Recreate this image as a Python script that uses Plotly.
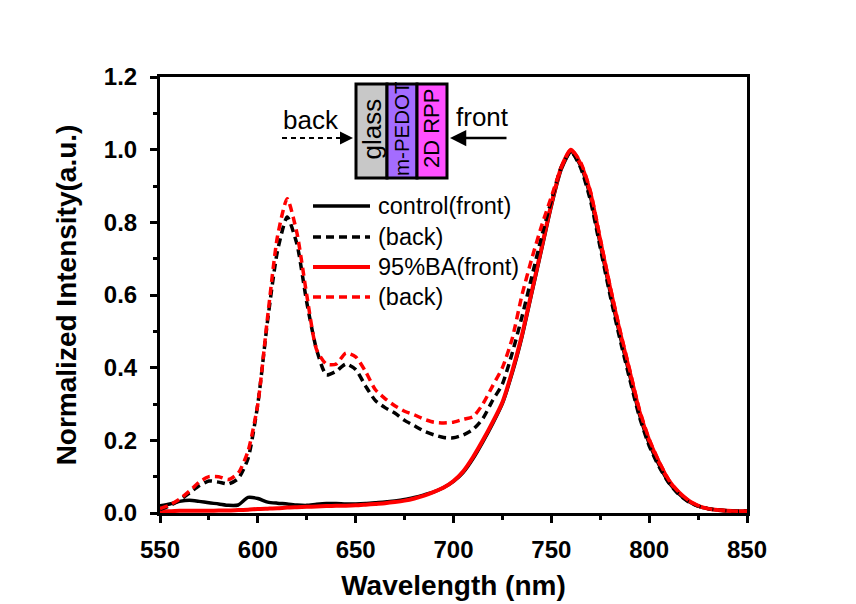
import plotly.graph_objects as go

# ---------------- data ----------------
wavelength = [550, 555, 560, 565, 570, 575, 580, 585, 590, 595, 600, 605, 610, 615, 620,
              625, 630, 635, 640, 645, 650, 655, 660, 665, 670, 675, 680, 685, 690, 695,
              700, 705, 710, 715, 720, 725, 730, 735, 740, 745, 750, 755, 760, 765, 770,
              775, 780, 785, 790, 795, 800, 805, 810, 815, 820, 825, 830, 835, 840, 845, 850]

control_front = [0.020, 0.025, 0.032, 0.035, 0.032, 0.028, 0.025, 0.021, 0.022, 0.043, 0.040,
                 0.030, 0.027, 0.025, 0.022, 0.021, 0.024, 0.026, 0.026, 0.025, 0.025, 0.026,
                 0.028, 0.030, 0.033, 0.037, 0.043, 0.050, 0.058, 0.070, 0.087, 0.112, 0.150,
                 0.196, 0.246, 0.302, 0.385, 0.485, 0.605, 0.725, 0.845, 0.945, 0.995, 0.955,
                 0.870, 0.740, 0.610, 0.490, 0.380, 0.272, 0.192, 0.133, 0.085, 0.054, 0.032,
                 0.019, 0.012, 0.008, 0.006, 0.005, 0.005]

control_back = [0.010, 0.020, 0.035, 0.055, 0.075, 0.088, 0.085, 0.080, 0.095, 0.150, 0.300,
                0.530, 0.720, 0.815, 0.740, 0.580, 0.450, 0.380, 0.390, 0.410, 0.395, 0.350,
                0.310, 0.290, 0.275, 0.255, 0.240, 0.225, 0.215, 0.208, 0.207, 0.215, 0.230,
                0.260, 0.310, 0.355, 0.440, 0.540, 0.650, 0.760, 0.860, 0.950, 0.995, 0.950,
                0.860, 0.730, 0.600, 0.480, 0.370, 0.265, 0.185, 0.128, 0.083, 0.052, 0.031,
                0.019, 0.012, 0.008, 0.006, 0.005, 0.005]

ba_front = [0.005, 0.005, 0.006, 0.006, 0.006, 0.006, 0.007, 0.007, 0.008, 0.009, 0.011,
            0.012, 0.013, 0.015, 0.016, 0.017, 0.018, 0.019, 0.020, 0.020, 0.021, 0.023,
            0.025, 0.027, 0.030, 0.034, 0.040, 0.048, 0.058, 0.070, 0.088, 0.115, 0.154,
            0.200, 0.250, 0.305, 0.390, 0.490, 0.610, 0.730, 0.850, 0.950, 1.000, 0.960,
            0.880, 0.750, 0.620, 0.500, 0.390, 0.280, 0.200, 0.140, 0.090, 0.058, 0.035,
            0.020, 0.012, 0.008, 0.006, 0.005, 0.005]

ba_back = [0.012, 0.022, 0.038, 0.060, 0.085, 0.100, 0.100, 0.092, 0.110, 0.170, 0.300,
           0.540, 0.760, 0.865, 0.770, 0.600, 0.450, 0.410, 0.410, 0.440, 0.430, 0.390,
           0.340, 0.315, 0.295, 0.280, 0.270, 0.258, 0.250, 0.248, 0.250, 0.258, 0.265,
           0.300, 0.350, 0.400, 0.480, 0.600, 0.700, 0.790, 0.870, 0.950, 1.000, 0.965,
           0.885, 0.755, 0.625, 0.505, 0.395, 0.285, 0.203, 0.142, 0.091, 0.058, 0.035,
           0.020, 0.012, 0.008, 0.006, 0.005, 0.005]

series_names = ["control(front)", "(back)", "95%BA(front)", "(back)"]
x_ticks = [550, 600, 650, 700, 750, 800, 850]
y_ticks = [0.0, 0.2, 0.4, 0.6, 0.8, 1.0, 1.2]
layer_labels = ["glass", "m-PEDOT", "2D RPP"]
layer_colors = ["#c8c8c8", "#a46cff", "#ff50ff"]
layer_font_sizes = [26, 20.5, 22]

# ---------------- figure ----------------
OFF = 8  # page body margin
W, H = 856 - OFF, 604 - OFF
PL, PR, PT, PB = 160, 747, 77, 513  # plot area in page pixels
L, T = PL - OFF, PT - OFF
R = W - (PR - OFF)
B = H - (PB - OFF)
pw, ph = PR - PL, PB - PT


def px(x):
    return (x - PL) / pw


def py(y):
    return (PB - y) / ph


DASH = "8px,5px"
styles = [
    dict(color="black", width=3.5, dash="solid"),
    dict(color="black", width=3.5, dash=DASH),
    dict(color="#ff0000", width=4, dash="solid"),
    dict(color="#ff0000", width=3.5, dash=DASH),
]
series = [control_front, control_back, ba_front, ba_back]
draw_order = [0, 2, 1, 3]

fig = go.Figure()
for i in draw_order:
    fig.add_trace(go.Scatter(x=wavelength, y=series[i], mode="lines", name=series_names[i],
                             line=dict(shape="spline", smoothing=0.6, **styles[i]),
                             showlegend=False))

shapes = []
annotations = []
FONT = "Liberation Sans, Arial"

# custom legend
leg_y = [206, 237, 267, 297]
for i, yy in enumerate(leg_y):
    shapes.append(dict(type="line", xref="paper", yref="paper", x0=px(313), x1=px(370),
                       y0=py(yy), y1=py(yy), line=dict(color=styles[i]["color"],
                       width=styles[i]["width"], dash=styles[i]["dash"])))
    annotations.append(dict(xref="paper", yref="paper", x=px(376), y=py(yy), text=series_names[i],
                            showarrow=False, xanchor="left", yanchor="middle",
                            font=dict(family=FONT, size=23.5, color="black")))

# device schematic inset
edges = [356, 387, 417, 447]
for k in range(3):
    shapes.append(dict(type="rect", xref="paper", yref="paper", x0=px(edges[k]), x1=px(edges[k + 1]),
                       y0=py(178), y1=py(84), fillcolor=layer_colors[k],
                       line=dict(color="black", width=3)))
    annotations.append(dict(xref="paper", yref="paper", x=px((edges[k] + edges[k + 1]) / 2), y=py(129),
                            text=layer_labels[k], showarrow=False, textangle=-90,
                            xanchor="center", yanchor="middle",
                            font=dict(family=FONT, size=layer_font_sizes[k], color="black")))

# back arrow (dashed)
shapes.append(dict(type="line", xref="paper", yref="paper", x0=px(282), x1=px(342), y0=py(138), y1=py(138),
                   line=dict(color="black", width=2, dash="5px,4px")))
annotations.append(dict(xref="paper", yref="paper", x=px(353), y=py(138), ax=-14, ay=0, text="",
                        showarrow=True, arrowhead=2, arrowsize=1.3, arrowwidth=2, arrowcolor="black"))
annotations.append(dict(xref="paper", yref="paper", x=px(311), y=py(120), text="back", showarrow=False,
                        xanchor="center", yanchor="middle",
                        font=dict(family=FONT, size=26, color="black")))
# front arrow (solid)
annotations.append(dict(xref="paper", yref="paper", x=px(450), y=py(138), ax=58, ay=0, text="",
                        showarrow=True, arrowhead=2, arrowsize=1.3, arrowwidth=2.5, arrowcolor="black"))
annotations.append(dict(xref="paper", yref="paper", x=px(482), y=py(117), text="front", showarrow=False,
                        xanchor="center", yanchor="middle",
                        font=dict(family=FONT, size=26, color="black")))

tickfont = dict(family=FONT, size=24, color="black", weight="bold")
titlefont = dict(family=FONT, size=28, color="black", weight="bold")

fig.update_layout(
    width=W, height=H,
    margin=dict(l=L, r=R, t=T, b=B, autoexpand=False),
    paper_bgcolor="white", plot_bgcolor="white",
    shapes=shapes, annotations=annotations,
    xaxis=dict(range=[550, 850], tickvals=x_ticks, ticktext=[str(v) for v in x_ticks],
               ticks="outside", ticklen=7, tickwidth=3, tickcolor="black",
               showline=True, linewidth=3, linecolor="black", mirror=True,
               showgrid=False, zeroline=False, tickfont=tickfont, ticklabelstandoff=6,
               minor=dict(ticks="outside", ticklen=4, tickwidth=3, tickcolor="black",
                          tickvals=[575, 625, 675, 725, 775, 825], showgrid=False),
               title=dict(text="Wavelength (nm)", font=titlefont, standoff=14)),
    yaxis=dict(range=[0, 1.2], tickvals=y_ticks, ticktext=[f"{v:.1f}" for v in y_ticks],
               ticks="outside", ticklen=7, tickwidth=3, tickcolor="black",
               showline=True, linewidth=3, linecolor="black", mirror=True,
               showgrid=False, zeroline=False, tickfont=tickfont, ticklabelstandoff=8,
               minor=dict(ticks="outside", ticklen=4, tickwidth=3, tickcolor="black",
                          tickvals=[0.1, 0.3, 0.5, 0.7, 0.9, 1.1], showgrid=False),
               title=dict(text="Normalized Intensity(a.u.)", font=titlefont, standoff=20)),
)

fig.write_html("out.html")
